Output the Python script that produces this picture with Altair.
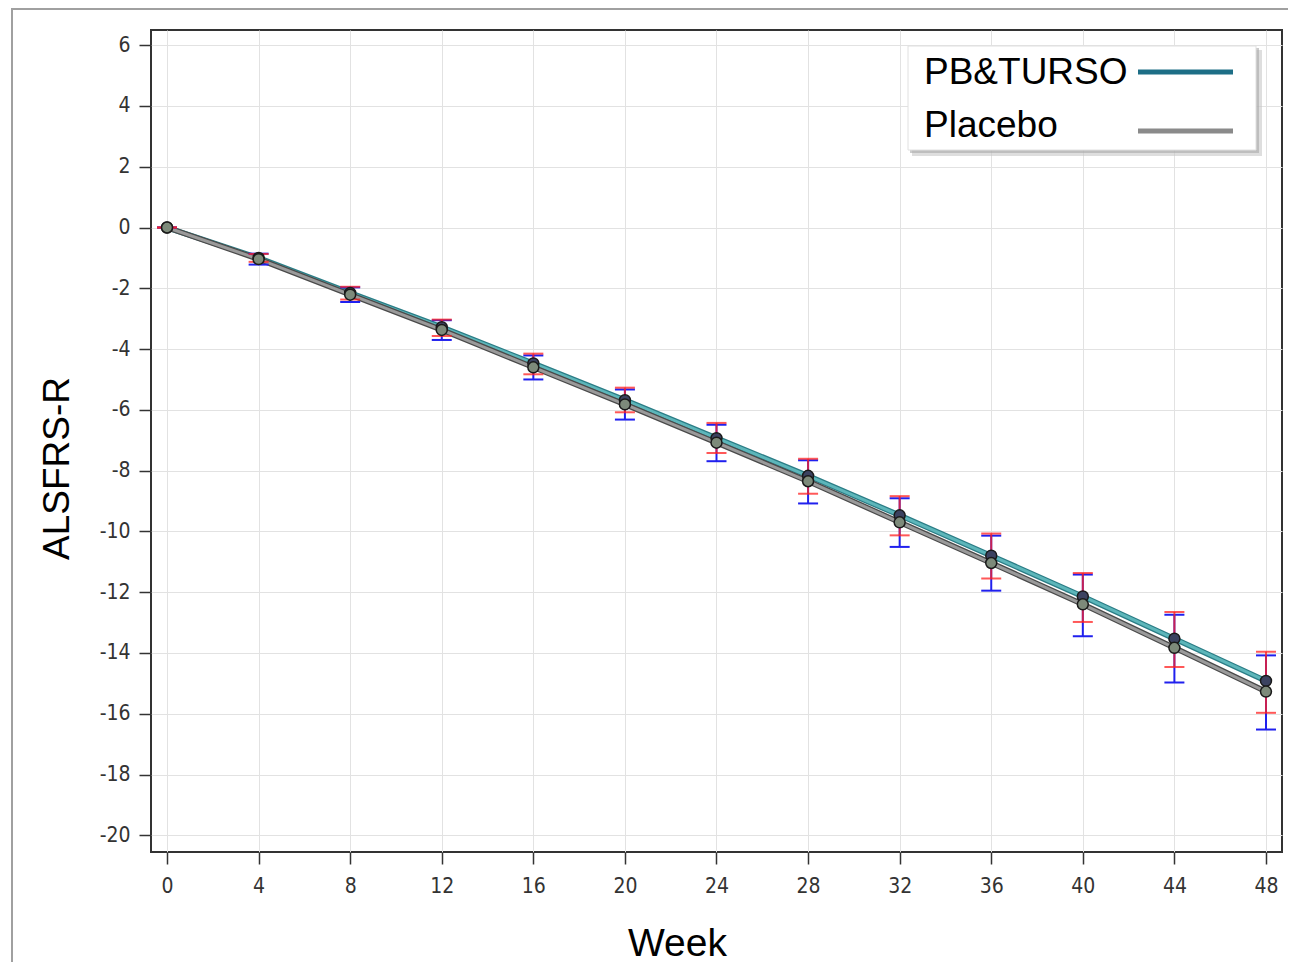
import altair as alt
import pandas as pd

# ---------------- data ----------------
weeks = [0, 4, 8, 12, 16, 20, 24, 28, 32, 36, 40, 44, 48]
series = ["PB&TURSO", "Placebo"]

pb_mean = [0, -1.00, -2.15, -3.28, -4.47, -5.68, -6.93, -8.17, -9.47, -10.80, -12.14, -13.53, -14.92]
pb_upper = [0, -0.87, -1.95, -3.03, -4.15, -5.27, -6.43, -7.61, -8.84, -10.07, -11.37, -12.65, -13.96]
pb_lower = [0, -1.13, -2.37, -3.57, -4.83, -6.08, -7.42, -8.76, -10.13, -11.55, -12.98, -14.46, -15.97]

pl_mean = [0, -1.04, -2.21, -3.37, -4.60, -5.82, -7.08, -8.35, -9.70, -11.04, -12.40, -13.83, -15.27]
pl_upper = [0, -0.86, -1.97, -3.05, -4.21, -5.33, -6.49, -7.66, -8.91, -10.14, -11.42, -12.74, -14.08]
pl_lower = [0, -1.22, -2.45, -3.70, -5.00, -6.32, -7.69, -9.08, -10.51, -11.95, -13.45, -14.97, -16.52]

x_ticks = list(range(0, 49, 4))
y_ticks = list(range(-20, 7, 2))

line_outer = {"PB&TURSO": "#2b7d86", "Placebo": "#4a4a4a"}
line_inner = {"PB&TURSO": "#5db6ba", "Placebo": "#9a9a9a"}
marker_fill = {"PB&TURSO": "#3b4260", "Placebo": "#7d8a7a"}
bar_color = {"PB&TURSO": "#ff2020", "Placebo": "#2020ee"}
legend_color = {"PB&TURSO": "#1d6e86", "Placebo": "#8a8a8a"}

rows = []
for name, m, lo, hi in [(series[0], pb_mean, pb_lower, pb_upper),
                        (series[1], pl_mean, pl_lower, pl_upper)]:
    for w, a, b, c in zip(weeks, m, lo, hi):
        rows.append({"series": name, "week": w, "mean": a, "lower": b, "upper": c})
df = pd.DataFrame(rows)

# ---------------- scales / axes ----------------
x_scale = alt.Scale(domain=[-0.7, 48.7], nice=False, zero=False)
y_scale = alt.Scale(domain=[-20.55, 6.5], nice=False, zero=False)

x_axis = alt.Axis(values=x_ticks, title="Week", labelPadding=11,
                  labelExpr="toString(datum.value)", titleFontSize=39,
                  titleX=526, titleY=91, titleAlign="center", titleBaseline="middle")
y_axis = alt.Axis(values=y_ticks, title="ALSFRS-R", labelPadding=9,
                  labelExpr="toString(datum.value)",
                  titleX=-94, titleY=438, titleAngle=270, titleAlign="center",
                  titleBaseline="middle")


def X(field="week"):
    return alt.X(f"{field}:Q", scale=x_scale, axis=x_axis)


def Y(field):
    return alt.Y(f"{field}:Q", scale=y_scale, axis=y_axis)


base = alt.Chart(df)
layers = []

# outer figure frame
frame_df = pd.DataFrame({"k": [0]})
layers.append(alt.Chart(frame_df).mark_rect(fill="transparent", stroke="#a0a0a0", strokeWidth=2).encode(
    x=alt.value(-139), x2=alt.value(1200), y=alt.value(-21), y2=alt.value(1000)))

# lines: treatment first, then placebo on top
for s in series:
    sub = base.transform_filter(alt.datum.series == s)
    layers.append(sub.mark_line(strokeWidth=5.5, color=line_outer[s]).encode(x=X(), y=Y("mean")))
    layers.append(sub.mark_line(strokeWidth=3, color=line_inner[s]).encode(x=X(), y=Y("mean")))

# error bars: placebo (blue) then treatment (red)
for s, op in [(series[1], 1.0), (series[0], 0.75)]:
    sub = base.transform_filter(alt.datum.series == s)
    layers.append(sub.mark_rule(strokeWidth=2, color=bar_color[s], opacity=op).encode(
        x=X(), y=Y("upper"), y2="lower:Q"))
    layers.append(sub.mark_tick(orient="horizontal", size=20, thickness=2,
                                color=bar_color[s], opacity=op).encode(x=X(), y=Y("upper")))
    layers.append(sub.mark_tick(orient="horizontal", size=20, thickness=2,
                                color=bar_color[s], opacity=op).encode(x=X(), y=Y("lower")))

# markers
for s in series:
    sub = base.transform_filter(alt.datum.series == s)
    layers.append(sub.mark_point(filled=True, size=120, shape="circle", fill=marker_fill[s],
                                 stroke="#1a1a1a", strokeWidth=1.5, opacity=1).encode(
        x=X(), y=Y("mean")))

# ---------------- legend (upper right box) ----------------
one = pd.DataFrame({"k": [0]})
# shadow
layers.append(alt.Chart(one).mark_rect(fill="#c8c8c8", opacity=0.6).encode(
    x=alt.value(761), x2=alt.value(1111), y=alt.value(20), y2=alt.value(126)))
layers.append(alt.Chart(one).mark_rect(fill="#a8a8a8", opacity=0.6).encode(
    x=alt.value(759), x2=alt.value(1108), y=alt.value(18), y2=alt.value(123)))
layers.append(alt.Chart(one).mark_rect(fill="white", stroke="#e0e0e0", strokeWidth=1).encode(
    x=alt.value(757), x2=alt.value(1105), y=alt.value(16), y2=alt.value(120)))

legend_y_text = [43, 96]
legend_y_line = [42, 101]
for s, ty, ly in zip(series, legend_y_text, legend_y_line):
    ldf = pd.DataFrame({"label": [s]})
    layers.append(alt.Chart(ldf).mark_text(align="left", baseline="middle", fontSize=37,
                                           font="Liberation Sans", color="black").encode(
        x=alt.value(773), y=alt.value(ty), text="label:N"))
    layers.append(alt.Chart(ldf).mark_rule(strokeWidth=5, color=legend_color[s]).encode(
        x=alt.value(987), x2=alt.value(1082), y=alt.value(ly)))

chart = alt.layer(*layers).properties(
    width=1131,
    height=822,
    autosize=alt.AutoSizeParams(type="none"),
    padding={"left": 143, "top": 22, "right": 6, "bottom": 110},
    background="white",
).configure_view(
    stroke="#333333", strokeWidth=2
).configure_axis(
    grid=True, gridColor="#e2e2e2", gridWidth=1,
    domain=False,
    tickColor="#333333", tickWidth=1.5, tickSize=12,
    labelFont="DejaVu Sans Condensed, Liberation Sans, sans-serif", labelFontSize=21,
    labelColor="#333333",
    titleFont="Liberation Sans", titleFontSize=37, titleFontWeight="normal", titleColor="black",
)

chart.save("out.html", embed_options={"renderer": "svg", "actions": False})
